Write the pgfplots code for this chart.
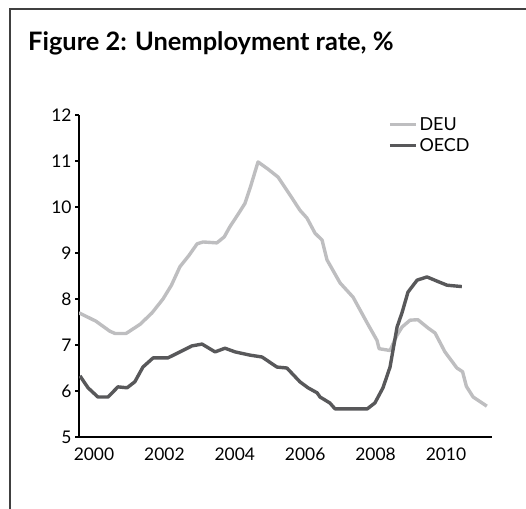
\documentclass[border=0pt]{standalone}
\usepackage{fontspec}
\setmainfont{Lato}
\usepackage{pgfplots}
\pgfplotsset{compat=1.18}
\definecolor{deu}{HTML}{BEBEC0}
\definecolor{oecd}{HTML}{58585A}

\begin{document}
\begin{tikzpicture}
\useasboundingbox (0bp,0bp) rectangle (526bp,509bp);
% frame round the figure
\draw[line width=1.2bp, black!75] (10bp,0bp) -- (10bp,500bp) -- (526bp,500bp);
\node[anchor=base west, inner sep=0pt, font=\fontsize{25.5}{30}\selectfont\bfseries]
  at (28bp,458bp) {Figure 2: Unemployment rate, \%};

\begin{axis}[
    at={(79bp,72bp)}, anchor=south west,
    scale only axis,
    width=413bp, height=322bp,
    xmin=1999.574, xmax=2011.307,
    ymin=5, ymax=12,
    axis x line*=bottom, axis y line*=left,
    axis line style={-, line width=1.2bp, black},
    xtick={2000,2002,2004,2006,2008,2010},
    ytick={5,6,7,8,9,10,11,12},
    x tick style={draw=none},
    y tick style={line width=1.2bp, black},
    tick align=outside,
    major tick length=4bp,
    tick label style={font=\fontsize{17.5}{20}\selectfont, black},
    /pgf/number format/assume math mode=true,
    /pgf/number format/1000 sep={},
    xticklabel style={yshift=-3bp},
    legend style={draw=none, fill=none, at={(0.748,1.0)}, anchor=north west,
        font=\fontsize{18}{21}\selectfont, inner sep=0pt, row sep=3bp},
    legend cell align=left,
    legend image code/.code={\draw[#1, line width=3.4bp] (0bp,0bp) -- (26bp,0bp);},
]
\addplot[deu, line width=3.4bp, line join=round] coordinates {
(1999.57,7.70) (2000.05,7.52) (2000.45,7.30) (2000.60,7.25) (2000.91,7.25)
(2001.31,7.45) (2001.65,7.70) (2001.96,8.00) (2002.20,8.30) (2002.44,8.70)
(2002.70,8.95) (2002.93,9.20) (2003.10,9.24) (2003.49,9.22) (2003.70,9.35)
(2003.86,9.57) (2004.10,9.85) (2004.29,10.08) (2004.45,10.45) (2004.66,10.98)
(2004.95,10.82) (2005.23,10.65) (2005.57,10.26) (2005.85,9.93) (2006.05,9.76)
(2006.28,9.43) (2006.48,9.28) (2006.62,8.85) (2006.99,8.35) (2007.36,8.04)
(2007.76,7.48) (2008.04,7.10) (2008.10,6.92) (2008.41,6.88) (2008.60,7.20)
(2008.75,7.39) (2008.98,7.54) (2009.20,7.55) (2009.49,7.37) (2009.69,7.26)
(2009.97,6.85) (2010.31,6.50) (2010.47,6.42) (2010.58,6.10) (2010.77,5.87)
(2011.16,5.67)
};
\addlegendentry{DEU}
\addplot[oecd, line width=3.4bp, line join=round] coordinates {
(1999.60,6.33) (1999.83,6.07) (2000.11,5.87) (2000.40,5.87) (2000.68,6.09)
(2000.94,6.07) (2001.16,6.20) (2001.39,6.52) (2001.68,6.72) (2002.10,6.72)
(2002.39,6.83) (2002.78,6.98) (2003.07,7.02) (2003.44,6.85) (2003.72,6.93)
(2004.01,6.85) (2004.43,6.78) (2004.77,6.74) (2005.20,6.52) (2005.48,6.50)
(2005.85,6.20) (2006.08,6.07) (2006.34,5.96) (2006.42,5.87) (2006.70,5.74)
(2006.85,5.61) (2007.76,5.61) (2007.98,5.74) (2008.21,6.07) (2008.41,6.52)
(2008.61,7.39) (2008.75,7.70) (2008.92,8.15) (2009.18,8.41) (2009.46,8.48)
(2009.74,8.39) (2010.03,8.30) (2010.45,8.27)
};
\addlegendentry{OECD}
\end{axis}
\end{tikzpicture}
\end{document}
